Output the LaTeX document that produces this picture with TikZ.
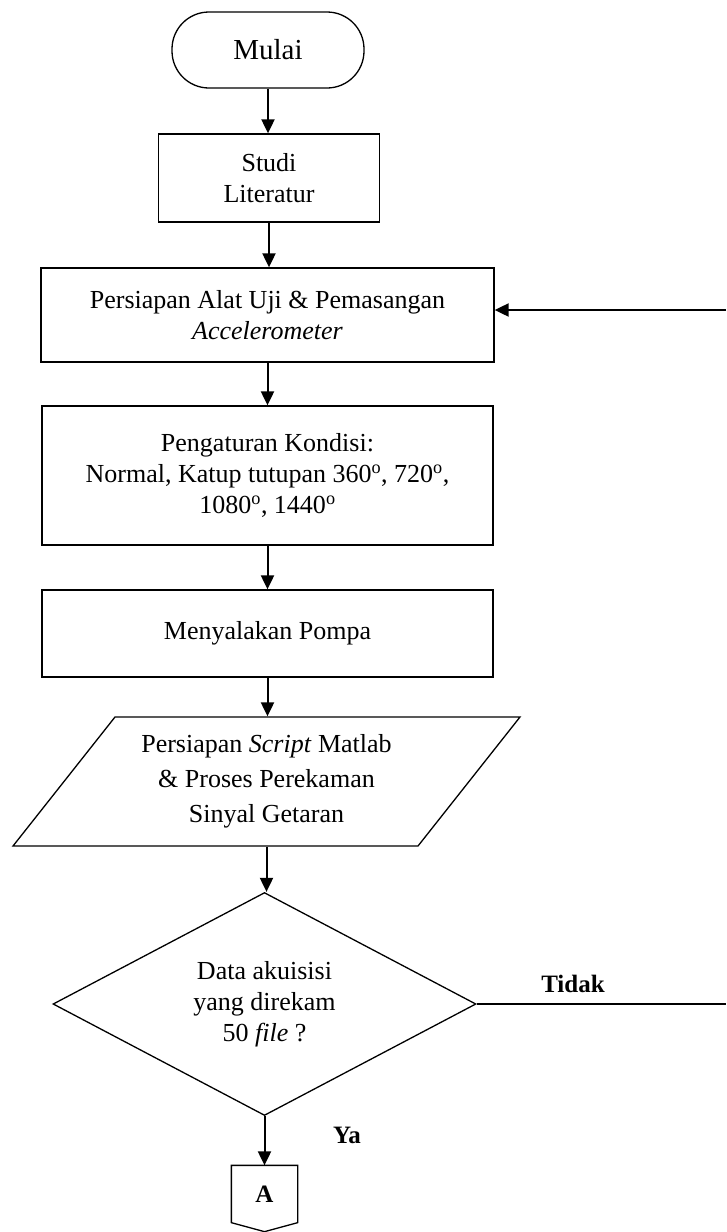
\documentclass[tikz,border=0pt]{standalone}
\usepackage{fontspec}
\setmainfont{Liberation Serif}
\usetikzlibrary{arrows.meta,shapes.geometric,calc}
\begin{document}
\begin{tikzpicture}[x=1pt,y=-1pt,
  box/.style={draw, line width=1.3pt, align=center, inner sep=0pt, font=\fontsize{26}{31}\selectfont},
  flow/.style={line width=2pt, -{Triangle[length=14pt,width=13pt]}},
  plain/.style={line width=1.3pt},
  lbl/.style={font=\fontsize{25}{28}\selectfont\bfseries}]
\useasboundingbox (0,0) rectangle (726,1232);
\node[box, rounded corners=37pt, minimum width=192pt, minimum height=76pt, font=\fontsize{29}{34}\selectfont] (mulai) at (268,50) {Mulai};
\node[box, minimum width=221pt, minimum height=88pt] (studi) at (269,178) {Studi\\Literatur};
\node[box, minimum width=453pt, minimum height=94pt] (alat) at (267.5,315) {Persiapan Alat Uji \& Pemasangan\\\textit{Accelerometer}};
\node[box, minimum width=451pt, minimum height=139pt] (kondisi) at (267.5,475.5) {\rule{0pt}{8pt}Pengaturan Kondisi:\\Normal, Katup tutupan 360\textsuperscript{o}, 720\textsuperscript{o},\\1080\textsuperscript{o}, 1440\textsuperscript{o}};
\node[box, minimum width=451pt, minimum height=87pt] (pompa) at (267.5,633.5) {Menyalakan Pompa};
\node[box, draw=none, minimum width=303pt, minimum height=129pt, font=\fontsize{26}{35}\selectfont] (script) at (266.5,781.5) {Persiapan \textit{Script} Matlab\\\& Proses Perekaman\\Sinyal Getaran};
\draw[plain] (115,717) -- (520,717) -- (418,846) -- (13,846) -- cycle;
\node[box, diamond, aspect=2, minimum width=423pt, minimum height=223pt] (cek) at (264.5,1004) {Data akuisisi\\yang direkam\\50 \textit{file} ?};
\node[box, draw=none, minimum width=65pt, minimum height=56pt, font=\fontsize{25}{30}\selectfont\bfseries] (A) at (264.5,1194) {A};
\draw[plain] (A.north west) -- (A.north east) -- (A.south east) -- ($(A.south)+(0,9)$) -- (A.south west) -- cycle;
\draw[flow] (mulai.south) -- (mulai.south |- studi.north);
\draw[flow] (studi.south) -- (studi.south |- alat.north);
\draw[flow] (alat.south) -- (alat.south |- kondisi.north);
\draw[flow] (kondisi.south) -- (kondisi.south |- pompa.north);
\draw[flow] (pompa.south) -- (pompa.south |- script.north);
\draw[flow] (script.south) -- (script.south |- cek.north);
\draw[flow] (cek.south) -- (cek.south |- A.north);
\coordinate (fbR) at (726,310);
\draw[flow] (fbR) -- (fbR -| alat.east);
\coordinate (noR) at (726,1004);
\draw[plain] (cek.east) -- (cek.east -| noR);
\node[lbl] (tidak) at (573,984) {Tidak};
\node[lbl] (ya) at (347,1135) {Ya};
\end{tikzpicture}
\end{document}
